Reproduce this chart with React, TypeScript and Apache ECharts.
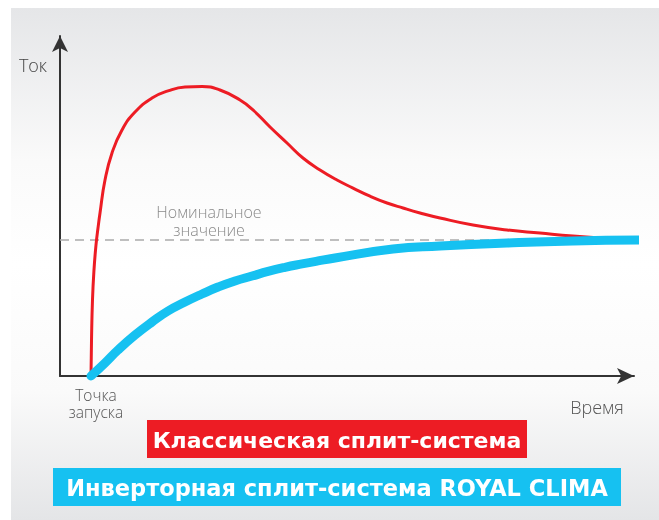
import React, { useEffect, useRef } from "react";
import * as echarts from "echarts";

// Time (0..100 along the axis) and current (nominal = 100)
const classicX = [5.4, 5.49, 5.66, 5.92, 6.27, 6.62, 6.97, 7.84, 9.06, 10.8, 13.07, 16.03, 18.82, 21.78, 24.74, 27.87, 31.36, 33.62, 36.59, 39.55, 42.33, 45.3, 48.26, 51.05, 54.01, 56.97, 59.76, 62.72, 66.2, 71.95, 77.87, 83.62, 89.37, 94.08];
const classicY = [0, 26.5, 55.9, 77.9, 96.3, 108.8, 119.9, 144.1, 164.0, 180.9, 194.1, 204.4, 209.6, 212.5, 212.9, 210.3, 202.9, 195.6, 183.1, 171.3, 160.3, 151.5, 144.1, 138.2, 132.2, 127.2, 123.5, 119.9, 116.2, 111.0, 107.4, 105.1, 102.9, 101.5];

const inverterX = [5.4, 7.84, 10.1, 13.07, 16.03, 18.82, 21.78, 24.74, 27.53, 30.49, 33.45, 36.24, 39.2, 42.16, 44.95, 47.91, 58.01, 66.2, 77.87, 89.37, 102.44];
const inverterY = [0, 9.6, 19.1, 30.1, 39.7, 47.8, 54.4, 60.3, 65.4, 69.9, 73.5, 76.9, 79.9, 82.4, 84.6, 86.8, 93.4, 95.6, 97.8, 99.3, 100];

const nominalValue = 100;

const yAxisTitle = "Ток";
const xAxisTitle = "Время";
const nominalLines = ["Номинальное", "значение"];
const startLines = ["Точка", "запуска"];
const classicName = "Классическая сплит-система";
const inverterName = "Инверторная сплит-система ROYAL CLIMA";

const RED = "#ed1c24";
const BLUE = "#16c1f1";

export default function App() {
  const ref = useRef<HTMLDivElement>(null);
  useEffect(() => {
    if (!ref.current) return;
    const chart = echarts.init(ref.current, undefined, { renderer: "svg" });
    const lightFont = "'Open Sans', Lato, sans-serif";
    const txt = (text: string, x: number, y: number, size: number, fill: string) => ({
      type: "text",
      x, y,
      style: { text, fill, font: `300 ${size}px ${lightFont}`, align: "center", verticalAlign: "middle" },
    });
    chart.setOption({
      animation: false,
      grid: { left: 60, top: 36, right: 25, bottom: 144 },
      xAxis: {
        type: "value",
        min: 0,
        max: 100,
        axisLine: { show: true, symbol: ["none", "arrow"], symbolSize: [12, 17], lineStyle: { color: "#333", width: 2 } },
        axisTick: { show: false },
        axisLabel: { show: false },
        splitLine: { show: false },
      },
      yAxis: {
        type: "value",
        min: 0,
        max: 250,
        axisLine: { show: true, symbol: ["none", "arrow"], symbolSize: [12, 16], lineStyle: { color: "#333", width: 2 } },
        axisTick: { show: false },
        axisLabel: { show: false },
        splitLine: { show: false },
      },
      series: [
        {
          name: "nominal",
          type: "line",
          data: [[0, nominalValue], [100, nominalValue]],
          showSymbol: false,
          symbol: "none",
          lineStyle: { color: "#aaaaaa", width: 1.5, type: [9, 6] },
          z: 1,
          silent: true,
        },
        {
          name: classicName,
          type: "line",
          data: classicX.map((x, i) => [x, classicY[i]]),
          smooth: 0.5,
          symbol: "none",
          clip: false,
          lineStyle: { color: RED, width: 3 },
          z: 3,
        },
        {
          name: inverterName,
          type: "line",
          data: inverterX.map((x, i) => [x, inverterY[i]]),
          smooth: 0.5,
          symbol: "none",
          clip: false,
          lineStyle: { color: BLUE, width: 9, cap: "round", join: "round" },
          z: 4,
        },
      ],
      graphic: [
        {
          type: "rect",
          z: -10,
          silent: true,
          shape: { x: 11, y: 8, width: 648, height: 512 },
          style: {
            fill: {
              type: "linear",
              x: 0, y: 0, x2: 0, y2: 1,
              colorStops: [
                { offset: 0, color: "#e5e6e8" },
                { offset: 0.3, color: "#fafafa" },
                { offset: 0.5, color: "#ffffff" },
                { offset: 0.75, color: "#fafafa" },
                { offset: 1, color: "#e4e5e7" },
              ],
            },
          },
        },
        txt(yAxisTitle, 33, 65, 18, "#444"),
        txt(xAxisTitle, 597, 407, 18, "#555"),
        txt(nominalLines[0], 209, 212, 16, "#8a8a8a"),
        txt(nominalLines[1], 209, 230, 16, "#8a8a8a"),
        txt(startLines[0], 96, 395, 15.5, "#555"),
        txt(startLines[1], 96, 412, 15.5, "#555"),
        {
          type: "rect",
          shape: { x: 147, y: 420, width: 380, height: 38 },
          style: { fill: RED },
        },
        {
          type: "text",
          x: 337, y: 440,
          style: { text: classicName, fill: "#fff", font: "bold 22px 'DejaVu Sans', sans-serif", align: "center", verticalAlign: "middle" },
        },
        {
          type: "rect",
          shape: { x: 53, y: 468, width: 568, height: 38 },
          style: { fill: BLUE },
        },
        {
          type: "text",
          x: 337, y: 488,
          style: { text: inverterName, fill: "#fff", font: "bold 22.5px 'DejaVu Sans', sans-serif", align: "center", verticalAlign: "middle" },
        },
      ],
    });
    return () => chart.dispose();
  }, []);
  return <div ref={ref} style={{ position: "fixed", left: 0, top: 0, width: 659, height: 520 }} />;
}
